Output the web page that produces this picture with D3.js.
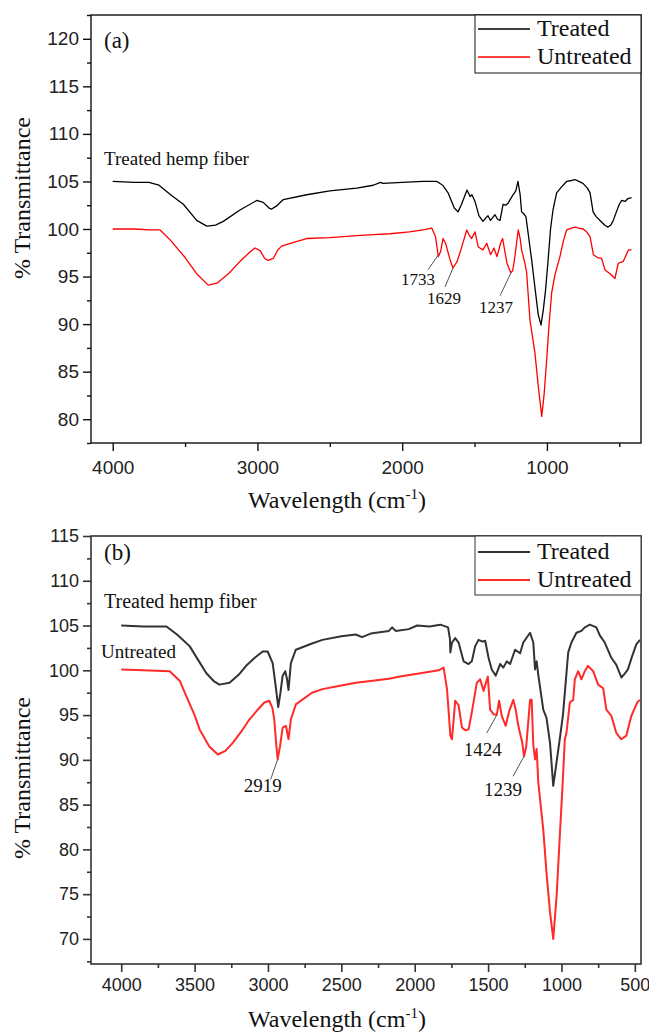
<!DOCTYPE html>
<html>
<head>
<meta charset="utf-8">
<script src="https://cdn.jsdelivr.net/npm/d3@7"></script>
<style>
  body { margin: 0; background: #fff; }
  svg { display: block; }
</style>
</head>
<body>
<div id="chart"></div>
<script>
// FTIR spectra of hemp fiber, two panels (a) and (b)
// values: [wavenumber, % transmittance]

const treatedA = [[4000,105.0],[3850,104.9],[3750,104.9],[3680,104.6],[3600,103.6],[3512,102.6],[3420,100.9],[3350,100.3],[3290,100.4],[3236,100.8],[3121,102.0],[3005,103.0],[2960,102.8],[2920,102.2],[2902,102.1],[2870,102.4],[2821,103.1],[2660,103.6],[2500,104.0],[2314,104.3],[2200,104.6],[2150,104.9],[2133,104.8],[2000,104.9],[1856,105.0],[1760,105.0],[1720,104.6],[1683,103.8],[1640,102.2],[1614,101.8],[1590,102.6],[1552,104.1],[1530,103.4],[1518,103.6],[1497,102.9],[1470,101.4],[1442,100.8],[1420,101.2],[1407,101.4],[1390,100.9],[1375,101.2],[1359,101.5],[1340,101.0],[1324,100.9],[1303,102.6],[1285,102.5],[1269,102.7],[1250,103.2],[1234,103.6],[1215,104.0],[1200,105.0],[1185,103.6],[1175,101.8],[1160,101.6],[1145,101.3],[1125,99.0],[1105,96.7],[1080,93.5],[1060,91.0],[1041,89.9],[1025,91.5],[1010,93.5],[993,96.5],[975,100.0],[958,102.0],[933,103.8],[900,104.4],[864,105.0],[830,105.1],[806,105.2],[780,105.0],[751,104.8],[720,104.3],[702,103.8],[681,101.8],[660,101.3],[633,100.9],[600,100.4],[578,100.2],[560,100.4],[544,100.8],[520,101.8],[500,102.6],[483,103.0],[460,102.9],[440,103.2],[415,103.3]];

const untreatedA = [[4000,100.0],[3850,100.0],[3750,99.9],[3673,99.9],[3600,98.8],[3500,97.0],[3420,95.3],[3340,94.1],[3280,94.3],[3200,95.3],[3120,96.6],[3050,97.6],[3017,98.0],[2980,97.7],[2950,96.9],[2927,96.7],[2890,96.9],[2860,97.8],[2833,98.2],[2750,98.6],[2660,99.0],[2500,99.1],[2314,99.3],[2200,99.4],[2084,99.5],[1950,99.7],[1856,99.9],[1796,100.1],[1770,99.2],[1750,97.1],[1735,97.6],[1718,99.0],[1700,98.5],[1670,96.8],[1649,95.9],[1620,96.6],[1589,98.1],[1554,99.9],[1535,99.3],[1520,99.0],[1497,99.7],[1474,98.1],[1442,97.8],[1416,98.5],[1389,97.3],[1366,98.0],[1345,97.1],[1320,98.5],[1306,99.0],[1290,97.6],[1276,96.4],[1250,95.4],[1237,95.6],[1225,96.7],[1210,98.5],[1198,99.9],[1185,99.0],[1175,97.8],[1152,96.4],[1140,95.4],[1117,90.4],[1083,87.0],[1060,83.5],[1036,80.3],[1020,82.5],[1002,86.2],[985,90.0],[967,93.3],[944,95.2],[910,97.1],[887,98.7],[864,99.9],[830,100.1],[806,100.2],[780,100.1],[749,100.0],[720,99.6],[702,99.2],[679,97.3],[650,97.0],[622,96.9],[599,95.7],[564,95.3],[530,94.8],[507,96.4],[490,96.5],[472,96.6],[437,97.8],[415,97.8]];

const treatedB = [[4000,105.0],[3850,104.9],[3692,104.9],[3620,104.0],[3534,102.7],[3470,101.0],[3421,99.7],[3370,98.8],[3331,98.4],[3262,98.6],[3200,99.5],[3149,100.5],[3090,101.4],[3036,102.1],[3002,102.1],[2968,100.8],[2945,97.9],[2930,95.9],[2915,97.5],[2900,99.4],[2882,99.9],[2870,99.0],[2860,97.8],[2844,100.8],[2810,102.3],[2700,103.0],[2629,103.4],[2500,103.8],[2402,104.0],[2359,103.7],[2300,104.1],[2176,104.4],[2154,104.8],[2130,104.4],[2040,104.6],[1984,105.0],[1900,104.9],[1825,105.1],[1773,104.8],[1760,103.5],[1757,102.0],[1746,103.1],[1724,103.6],[1701,103.1],[1667,101.0],[1633,100.7],[1611,101.0],[1588,102.7],[1565,103.4],[1538,103.2],[1520,103.3],[1497,101.4],[1475,100.1],[1448,99.4],[1418,100.7],[1396,100.3],[1373,101.0],[1350,100.7],[1316,102.3],[1282,101.9],[1260,103.1],[1214,104.2],[1192,103.1],[1180,100.1],[1169,101.0],[1158,99.5],[1124,95.6],[1102,94.7],[1078,91.9],[1056,87.1],[1033,89.8],[1010,92.5],[990,95.0],[977,97.5],[954,102.0],[932,103.1],[898,104.2],[864,104.4],[841,104.8],[807,105.1],[762,104.8],[739,103.9],[705,103.1],[660,101.4],[626,100.6],[592,99.2],[570,99.6],[547,100.1],[520,101.5],[490,102.9],[465,103.4]];

const untreatedB = [[4000,100.1],[3850,100.0],[3670,99.9],[3600,98.8],[3556,97.1],[3500,95.0],[3466,93.4],[3400,91.5],[3342,90.6],[3290,91.0],[3240,91.9],[3180,93.2],[3127,94.5],[3070,95.6],[3025,96.4],[2991,96.6],[2970,95.8],[2957,94.5],[2945,92.0],[2934,90.05],[2918,91.5],[2900,93.6],[2878,93.8],[2868,93.0],[2860,92.3],[2844,94.5],[2810,96.2],[2700,97.5],[2629,97.9],[2500,98.3],[2402,98.6],[2300,98.8],[2176,99.05],[2100,99.3],[1950,99.7],[1837,100.0],[1803,100.3],[1780,97.9],[1757,92.7],[1746,92.3],[1724,96.6],[1701,96.1],[1678,93.6],[1655,93.3],[1633,93.4],[1611,95.3],[1577,98.6],[1554,99.0],[1531,97.7],[1502,99.3],[1486,95.6],[1463,95.1],[1441,95.0],[1425,96.6],[1407,94.9],[1380,93.8],[1357,95.4],[1328,96.7],[1312,95.6],[1294,93.8],[1267,91.9],[1255,90.4],[1240,91.5],[1214,96.7],[1203,96.7],[1192,91.7],[1180,90.05],[1169,91.2],[1158,87.5],[1124,82.2],[1102,77.4],[1078,73.0],[1056,70.0],[1033,74.8],[1010,81.9],[994,86.7],[977,92.3],[966,93.0],[943,96.4],[920,96.7],[909,99.0],[886,99.9],[864,99.0],[841,99.9],[819,100.5],[784,99.9],[750,98.4],[716,98.0],[694,95.6],[660,94.9],[626,93.0],[592,92.3],[558,92.7],[524,94.9],[484,96.4],[465,96.7]];

// tick values
const xTicksA = [4000, 3000, 2000, 1000];
const xMinorA = [3500, 2500, 1500, 500];
const yTicksA = [80, 85, 90, 95, 100, 105, 110, 115, 120];
const yMinorA = [77.5, 82.5, 87.5, 92.5, 97.5, 102.5, 107.5, 112.5, 117.5, 122.5];
const xTicksB = [4000, 3500, 3000, 2500, 2000, 1500, 1000, 500];
const xMinorB = [3750, 3250, 2750, 2250, 1750, 1250, 750];
const yTicksB = [70, 75, 80, 85, 90, 95, 100, 105, 110, 115];
const yMinorB = [67.5, 72.5, 77.5, 82.5, 87.5, 92.5, 97.5, 102.5, 107.5, 112.5];

const legendNames = ['Treated', 'Untreated'];

const W = 649, H = 1032;
const serif = '"Liberation Serif", "Times New Roman", Tinos, serif';
const sans = '"Liberation Sans", Arial, sans-serif';

const svg = d3.select('#chart').append('svg')
    .attr('width', W).attr('height', H);

function drawPanel(cfg) {
    const x = d3.scaleLinear().domain(cfg.xDomain).range([91, 641]);
    const y = d3.scaleLinear().domain(cfg.yDomain).range([cfg.bottom, cfg.top]);
    const g = svg.append('g');

    // axes
    const ax = g.append('g').attr('transform', `translate(0,${cfg.bottom})`)
        .call(d3.axisBottom(x).tickValues(cfg.xTicks).tickSize(8).tickPadding(5).tickFormat(d3.format('d')));
    g.append('g').attr('transform', `translate(0,${cfg.bottom})`)
        .call(d3.axisBottom(x).tickValues(cfg.xMinor).tickSize(4).tickFormat(''));
    g.append('g').attr('transform', 'translate(91,0)')
        .call(d3.axisLeft(y).tickValues(cfg.yTicks).tickSize(8).tickPadding(4));
    g.append('g').attr('transform', 'translate(91,0)')
        .call(d3.axisLeft(y).tickValues(cfg.yMinor).tickSize(4).tickFormat(''));

    g.selectAll('.domain').remove();
    g.selectAll('.tick line').attr('stroke', cfg.axisColor).attr('stroke-width', cfg.frameWidth);
    g.selectAll('.tick text')
        .attr('font-family', sans).attr('font-size', cfg.tickSize).attr('fill', '#222');
    ax.selectAll('.tick text').attr('dy', cfg.xLabelDy);

    // frame
    g.append('rect')
        .attr('x', 91).attr('y', cfg.top)
        .attr('width', 550).attr('height', cfg.bottom - cfg.top)
        .attr('fill', 'none').attr('stroke', cfg.axisColor).attr('stroke-width', cfg.frameWidth);

    // spectra
    const line = d3.line().x(d => x(d[0])).y(d => y(d[1]));
    g.append('path').datum(cfg.treated)
        .attr('d', line).attr('fill', 'none')
        .attr('stroke', cfg.black).attr('stroke-width', cfg.lineWidth).attr('stroke-linejoin', 'round');
    g.append('path').datum(cfg.untreated)
        .attr('d', line).attr('fill', 'none')
        .attr('stroke', cfg.red).attr('stroke-width', cfg.lineWidth).attr('stroke-linejoin', 'round');

    // legend
    const lg = g.append('g');
    lg.append('rect')
        .attr('x', 475).attr('y', cfg.top)
        .attr('width', 166).attr('height', cfg.legendH)
        .attr('fill', '#fff').attr('stroke', cfg.axisColor).attr('stroke-width', 1);
    legendNames.forEach((name, i) => {
        const ly = cfg.top + cfg.legendRow0 + i * 28;
        lg.append('line')
            .attr('x1', 478).attr('x2', 530).attr('y1', ly).attr('y2', ly)
            .attr('stroke', i === 0 ? cfg.black : cfg.red).attr('stroke-width', cfg.lineWidth);
        lg.append('text')
            .attr('x', 537).attr('y', ly + 7)
            .attr('font-family', serif).attr('font-size', 24).attr('fill', '#111')
            .text(name);
    });

    // panel letter
    g.append('text')
        .attr('x', 104).attr('y', cfg.top + cfg.letterDy)
        .attr('font-family', serif).attr('font-size', 23).attr('fill', '#111')
        .text(cfg.letter);

    // texts inside
    cfg.notes.forEach(n => {
        g.append('text')
            .attr('x', n.x).attr('y', n.y)
            .attr('font-family', serif).attr('font-size', n.size).attr('fill', '#111')
            .text(n.text);
    });

    // peak labels with leader lines (anchored on curve value)
    cfg.peaks.forEach(p => {
        const px = x(p.wn), py = y(p.val);
        g.append('line')
            .attr('x1', px + p.lx).attr('y1', py + p.ly)
            .attr('x2', px).attr('y2', py)
            .attr('stroke', '#555').attr('stroke-width', 1);
        g.append('text')
            .attr('x', px + p.tx).attr('y', py + p.ty)
            .attr('text-anchor', 'middle')
            .attr('font-family', serif).attr('font-size', p.size).attr('fill', '#111')
            .text(p.label);
    });

    // axis titles
    g.append('text')
        .attr('transform', `translate(30,${cfg.yTitleY}) rotate(-90)`)
        .attr('text-anchor', 'middle')
        .attr('font-family', serif).attr('font-size', 24).attr('fill', '#111')
        .text('% Transmittance');

    const xt = g.append('text')
        .attr('x', 337).attr('y', cfg.xTitleY)
        .attr('text-anchor', 'middle')
        .attr('font-family', serif).attr('font-size', 24).attr('fill', '#111');
    xt.append('tspan').text('Wavelength (cm');
    xt.append('tspan').attr('dy', -9).attr('font-size', 15).text('-1');
    xt.append('tspan').attr('dy', 9).text(')');
}

drawPanel({
    letter: '(a)', letterDy: 33,
    top: 15, bottom: 443,
    xDomain: [4150, 350], yDomain: [77.5, 122.5],
    xTicks: xTicksA, xMinor: xMinorA, yTicks: yTicksA, yMinor: yMinorA,
    treated: treatedA, untreated: untreatedA,
    black: '#000', red: '#ff0000', lineWidth: 1.3,
    axisColor: '#111', frameWidth: 1.4, tickSize: 19,
    xLabelDy: '0.95em',
    legendH: 58, legendRow0: 14,
    notes: [{x: 104, y: 165, size: 19, text: 'Treated hemp fiber'}],
    peaks: [
        {wn: 1745, val: 97.4, label: '1733', lx: -11, ly: 16, tx: -21, ty: 31, size: 17},
        {wn: 1649, val: 95.9, label: '1629', lx: -8, ly: 19, tx: -9, ty: 36, size: 17},
        {wn: 1248, val: 95.4, label: '1237', lx: -11, ly: 23, tx: -15, ty: 40, size: 17}
    ],
    yTitleY: 198, xTitleY: 508
});

drawPanel({
    letter: '(b)', letterDy: 24,
    top: 536, bottom: 964,
    xDomain: [4206, 458], yDomain: [67.2, 115],
    xTicks: xTicksB, xMinor: xMinorB, yTicks: yTicksB, yMinor: yMinorB,
    treated: treatedB, untreated: untreatedB,
    black: '#333', red: '#ff2a2a', lineWidth: 2,
    axisColor: '#333', frameWidth: 1.6, tickSize: 18,
    xLabelDy: '0.75em',
    legendH: 59, legendRow0: 16,
    notes: [
        {x: 104, y: 608, size: 20, text: 'Treated hemp fiber'},
        {x: 101, y: 658, size: 19, text: 'Untreated'}
    ],
    peaks: [
        {wn: 2934, val: 90.05, label: '2919', lx: -7, ly: 20, tx: -15, ty: 33, size: 19},
        {wn: 1441, val: 95.0, label: '1424', lx: -10, ly: 18, tx: -14, ty: 41, size: 19},
        {wn: 1255, val: 90.4, label: '1239', lx: -11, ly: 20, tx: -21, ty: 40, size: 19}
    ],
    yTitleY: 778, xTitleY: 1027
});
</script>
</body>
</html>
